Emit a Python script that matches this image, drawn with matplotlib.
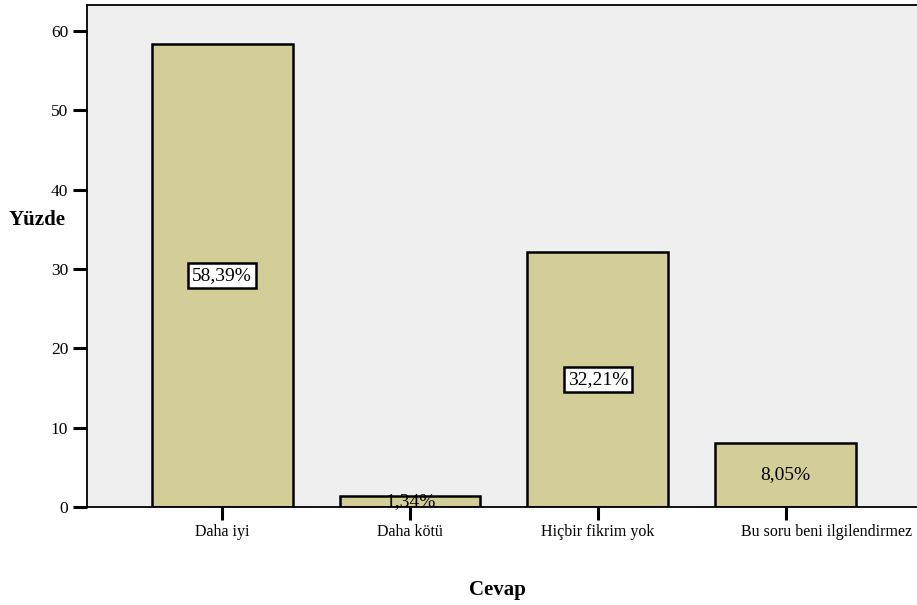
import matplotlib.pyplot as plt
import matplotlib.transforms as mtransforms
import numpy as np

cevaplar = ['Daha iyi', 'Daha kötü', 'Hiçbir fikrim yok', 'Bu soru beni ilgilendirmez']
yuzde = [58.39, 1.34, 32.21, 8.05]
etiketler = ['58,39%', '1,34%', '32,21%', '8,05%']
kutulu = [True, False, True, False]

plt.rcParams['font.family'] = ['Liberation Serif', 'DejaVu Serif']

fig = plt.figure(figsize=(9.17, 6.05), dpi=100)
ax = fig.add_axes([0.0949, 0.162, 0.9051, 0.8298])
ax.set_facecolor('#efefef')

x_pos = np.arange(len(cevaplar))
ax.bar(x_pos, yuzde, width=0.75, color='#d3ce97', edgecolor='black', linewidth=1.8, zorder=2)

for x, y, txt, kutu in zip(x_pos, yuzde, etiketler, kutulu):
    bbox = dict(boxstyle='square,pad=0.2', fc='white', ec='black', lw=1.8) if kutu else None
    ax.text(x, y / 2, txt, ha='center', va='center', fontsize=14, bbox=bbox, zorder=3)

ax.set_xlim(-0.72, 3.70)
ax.set_ylim(0, 63.3)
ax.set_yticks([0, 10, 20, 30, 40, 50, 60])
ax.set_xticks(x_pos)
ax.set_xticklabels(cevaplar, fontsize=11.5)
ax.tick_params(axis='y', length=10, width=2.2, labelsize=12.5, pad=3.5)
ax.tick_params(axis='x', length=9.5, width=2.2, pad=3)

# son etiket sağ kenara sığsın diye biraz sağa kaydırılır
son = ax.get_xticklabels()[-1]
son.set_transform(son.get_transform() + mtransforms.ScaledTranslation(41 / 100, 0, fig.dpi_scale_trans))

for s in ['left', 'top', 'bottom']:
    ax.spines[s].set_linewidth(1.3)
ax.spines['right'].set_visible(False)

fig.text(0.009, 0.636, 'Yüzde', fontsize=15, fontweight='bold', ha='left', va='center')
fig.text(0.543, 0.025, 'Cevap', fontsize=15, fontweight='bold', ha='center', va='center')

fig.savefig('out.png', dpi=100)
